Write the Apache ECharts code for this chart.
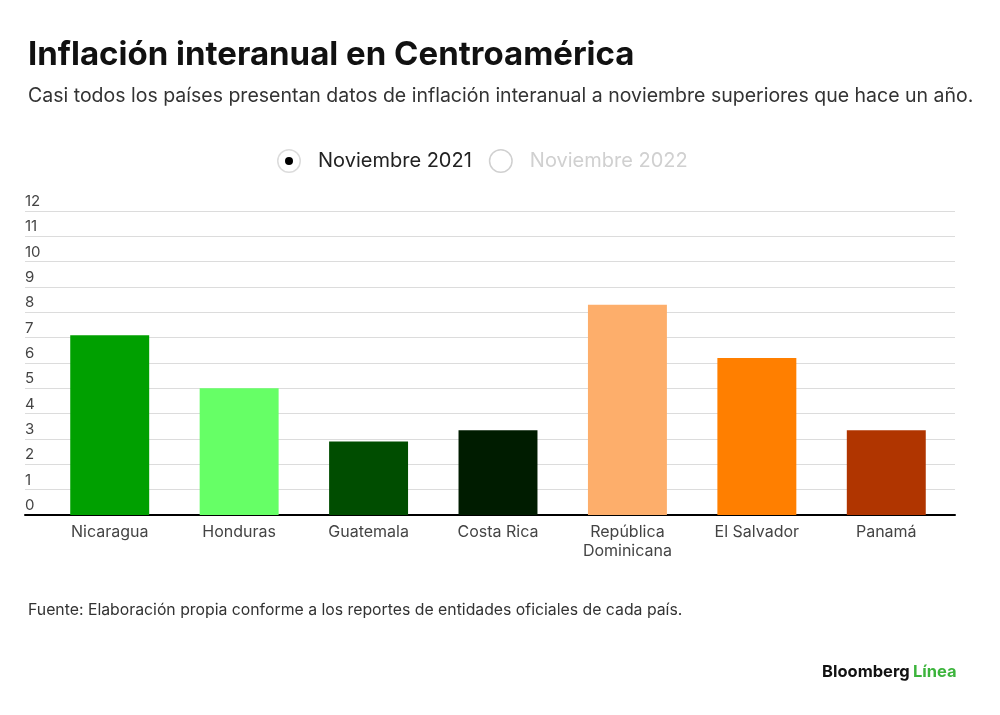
<!DOCTYPE html>
<html>
<head>
<meta charset="utf-8">
<script src="https://cdn.jsdelivr.net/npm/echarts@6/dist/echarts.min.js"></script>
<style>
  html, body { margin: 0; padding: 0; background: #fff; }
  #visualisation { width: 1000px; height: 715px; }
</style>
</head>
<body>
<div id="visualisation"></div>
<script>
// Data
const paises = ['Nicaragua', 'Honduras', 'Guatemala', 'Costa Rica', 'República\nDominicana', 'El Salvador', 'Panamá'];
const inflacion2021 = [7.1, 5.0, 2.9, 3.35, 8.3, 6.2, 3.35];
const yTicks = [0, 12, 1]; // min, max, interval

// Kleuren per land
const kleuren = ['#00a000', '#66ff66', '#004d00', '#001c00', '#fdae6b', '#ff7f00', '#b03500'];

function drawVisualisation() {
    let visualisation = echarts.init(document.getElementById('visualisation'));

    const font = 'Inter';
    const ring = 'path://M12,0 A12,12 0 1,1 12,24 A12,12 0 1,1 12,0 Z M12,1.5 A10.5,10.5 0 1,0 12,22.5 A10.5,10.5 0 1,0 12,1.5 Z';

    let option = {
        animation: false,
        textStyle: { fontFamily: font },
        title: {
            left: 23,
            top: 34,
            text: 'Inflación interanual en Centroamérica',
            subtext: 'Casi todos los países presentan datos de inflación interanual a noviembre superiores que hace un año.',
            itemGap: 14,
            textStyle: { fontFamily: font, fontSize: 33, fontWeight: 'bold', color: '#111' },
            subtextStyle: { fontFamily: font, fontSize: 19.5, color: '#333' }
        },
        legend: {
            left: 272,
            top: 144,
            itemWidth: 24,
            itemHeight: 24,
            itemGap: 17,
            icon: ring,
            inactiveColor: '#d0d0d0',
            textStyle: { fontFamily: font, fontSize: 20, color: '#222', padding: [0, 0, 0, 12] },
            data: [
                { name: 'Noviembre 2021', itemStyle: { color: '#dcdcdc' } },
                { name: 'Noviembre 2022' }
            ],
            selected: { 'Noviembre 2022': false }
        },
        grid: [
            { left: 25, right: 45, top: 211, bottom: 200 },
            { left: 45, right: 49, top: 211, bottom: 200 }
        ],
        xAxis: [
            {
                gridIndex: 0,
                type: 'category',
                data: paises,
                axisLine: { lineStyle: { color: '#000', width: 2 } },
                axisTick: { show: false },
                axisLabel: { show: false }
            },
            {
                gridIndex: 1,
                type: 'category',
                data: paises,
                axisLine: { show: false },
                axisTick: { show: false },
                axisLabel: { fontFamily: font, fontSize: 16, color: '#444', margin: 8, lineHeight: 19, interval: 0 }
            }
        ],
        yAxis: [
            {
                gridIndex: 0,
                type: 'value',
                min: yTicks[0],
                max: yTicks[1],
                interval: yTicks[2],
                axisLine: { show: false },
                axisTick: { show: false },
                axisLabel: {
                    inside: true,
                    margin: 0,
                    align: 'left',
                    verticalAlign: 'bottom',
                    padding: [0, 0, 2, 0],
                    fontFamily: font,
                    fontSize: 15,
                    color: '#444'
                },
                splitLine: { lineStyle: { color: '#dcdcdc', width: 1 } }
            },
            {
                gridIndex: 1,
                type: 'value',
                min: yTicks[0],
                max: yTicks[1],
                interval: yTicks[2],
                show: false,
                splitLine: { show: false }
            }
        ],
        series: [
            {
                name: 'Noviembre 2021',
                type: 'bar',
                xAxisIndex: 1,
                yAxisIndex: 1,
                barCategoryGap: '39%',
                data: inflacion2021.map((v, i) => ({ value: v, itemStyle: { color: kleuren[i] } }))
            },
            {
                name: 'Noviembre 2022',
                type: 'bar',
                xAxisIndex: 1,
                yAxisIndex: 1,
                data: []
            }
        ],
        graphic: [
            { type: 'circle', shape: { cx: 289, cy: 161, r: 4 }, style: { fill: '#000' }, z: 100 },
            {
                type: 'text', left: 28, top: 602,
                style: { text: 'Fuente: Elaboración propia conforme a los reportes de entidades oficiales de cada país.', font: '15.8px Inter', fill: '#333' }
            },
            {
                type: 'text', left: 822, top: 664,
                style: {
                    text: '{a|Bloomberg} {b|Línea}',
                    rich: {
                        a: { fontFamily: font, fontSize: 16.5, fontWeight: 'bold', fill: '#111', color: '#111' },
                        b: { fontFamily: font, fontSize: 16.5, fontWeight: 'bold', fill: '#3cb43c', color: '#3cb43c' }
                    }
                }
            }
        ]
    };

    visualisation.setOption(option);
}

window.addEventListener('load', drawVisualisation);
</script>
</body>
</html>
